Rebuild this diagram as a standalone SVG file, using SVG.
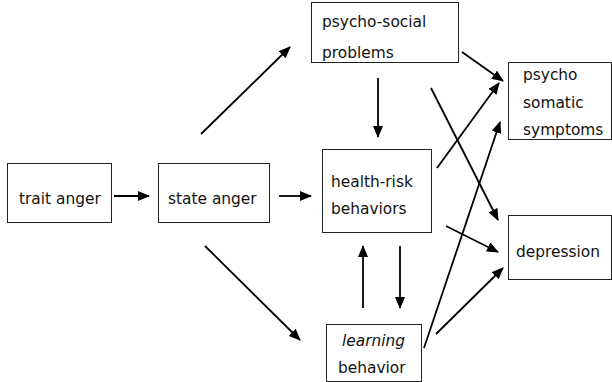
<svg xmlns="http://www.w3.org/2000/svg" width="612" height="382" viewBox="0 0 612 382">
<defs>
<marker id="ah" markerUnits="userSpaceOnUse" markerWidth="12" markerHeight="10" refX="11" refY="5" orient="auto">
<path d="M0,0 L12,5 L0,10 z" fill="#000"/>
</marker>
</defs>
<style>
.box{fill:#fff;stroke:#222;stroke-width:1}
.t{font-family:"DejaVu Sans",Verdana,sans-serif;font-size:15.4px;fill:#111}
.a{stroke:#000;stroke-width:1.8;fill:none;marker-end:url(#ah)}
</style>
<rect width="612" height="382" fill="#fff"/>
<g id="trait-anger">
<rect class="box" x="7.5" y="163.5" width="104" height="59"/>
<text class="t" x="19" y="204">trait anger</text>
</g>
<g id="state-anger">
<rect class="box" x="158.5" y="163.5" width="111" height="59"/>
<text class="t" x="168" y="204">state anger</text>
</g>
<g id="psycho-social">
<rect class="box" x="311.5" y="2.5" width="147" height="60"/>
<text class="t" x="322" y="27">psycho-social</text>
<text class="t" x="322" y="58">problems</text>
</g>
<g id="psychosomatic">
<rect class="box" x="508.5" y="62.5" width="103" height="77"/>
<text class="t" x="523" y="80">psycho</text>
<text class="t" x="523" y="108">somatic</text>
<text class="t" x="523" y="135">symptoms</text>
</g>
<g id="health-risk">
<rect class="box" x="322.5" y="149.5" width="109" height="83"/>
<text class="t" x="331" y="187">health-risk</text>
<text class="t" x="331" y="214">behaviors</text>
</g>
<g id="depression">
<rect class="box" x="508.5" y="215.5" width="103" height="64"/>
<text class="t" x="516" y="257">depression</text>
</g>
<g id="learning">
<rect class="box" x="326.5" y="324.5" width="95" height="57"/>
<text class="t" x="342" y="346" font-style="italic">learning</text>
<text class="t" x="338" y="373">behavior</text>
</g>
<g id="connectors">
<line class="a" x1="114" y1="196" x2="149" y2="196"/>
<line class="a" x1="279" y1="196" x2="311" y2="196"/>
<line class="a" x1="201" y1="134" x2="290" y2="47"/>
<line class="a" x1="205" y1="246" x2="300" y2="340"/>
<line class="a" x1="378" y1="78" x2="378" y2="137"/>
<line class="a" x1="462" y1="52" x2="503" y2="81"/>
<line class="a" x1="431" y1="88" x2="498" y2="220"/>
<line class="a" x1="437" y1="168" x2="499" y2="83"/>
<line class="a" x1="446" y1="226" x2="498" y2="252"/>
<line class="a" x1="424" y1="348" x2="500" y2="122"/>
<line class="a" x1="436" y1="334" x2="503" y2="268"/>
<line class="a" x1="363" y1="308" x2="363" y2="246"/>
<line class="a" x1="400" y1="246" x2="400" y2="308"/>
</g>
</svg>
